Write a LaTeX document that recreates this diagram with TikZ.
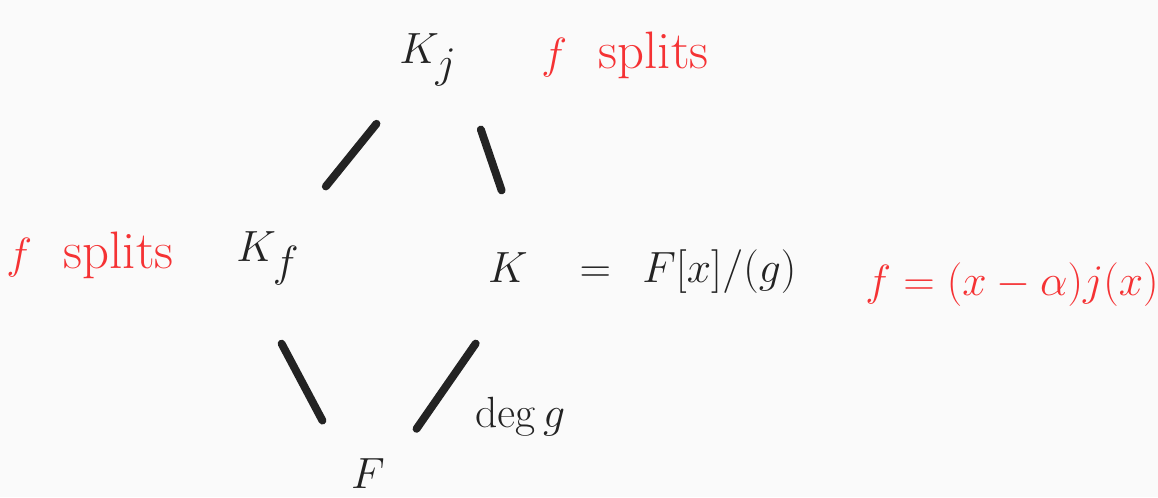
\documentclass[tikz,border=0pt]{standalone}
\usepackage{amsmath}
\definecolor{ink}{RGB}{35,35,35}
\definecolor{marker}{RGB}{245,50,52}
\begin{document}
\begin{tikzpicture}[x=0.02cm,y=-0.02cm]
    % --- styles ---
    \tikzstyle{field}=[inner sep=0pt, text=ink, font=\fontsize{36}{42}\selectfont]
    \tikzstyle{note}=[inner sep=0pt, text=marker, font=\fontsize{30}{36}\selectfont]
    \tikzstyle{ext}=[line width=4.5pt, line cap=round, draw=ink]

    \fill[white!98!black] (0,0) rectangle (1158,497);
    \useasboundingbox (0,0) rectangle (1158,497);

    % ====== fields ======
    \node[field] (Kj) at (428,60) {$K_j$};
    \node[field] (Kf) at (268,258) {$K_f$};
    \node[field] (K) at (508,268) {$K$};
    \node[field] (Kquot) at (688,272) {$=\ F[x]/(g)$};
    \node[field] (F) at (368,474) {$F$};

    % red notes
    \node[note] (splitsj) at (625,55) {$f$\ \ splits};
    \node[note] (splitsf) at (90,255) {$f$\ \ splits};
    \node[note, font=\fontsize{26}{30}\selectfont] (factor) at (1012,285) {$f=(x-\alpha)j(x)$};

    % ====== extensions ======
    \draw[ext, shorten <=1.64cm, shorten >=1.84cm] (Kj.center) -- (Kf.center);
    \draw[ext, shorten <=1.47cm, shorten >=1.64cm] (Kj.east) -- (K.east);
    \draw[ext, shorten <=1.94cm, shorten >=1.21cm] (Kf.west) -- (F.west);
    \draw[ext, shorten <=1.84cm, shorten >=1.10cm] (K.east) -- (F.east)
        node[pos=0.72, right=0.8cm, text=ink, font=\fontsize{24}{28}\selectfont] (deg) {$\deg g$};

\end{tikzpicture}
\end{document}
